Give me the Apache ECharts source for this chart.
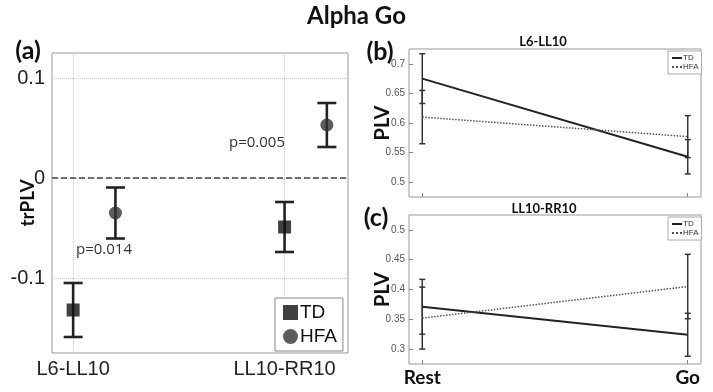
<!DOCTYPE html>
<html>
<head>
<meta charset="utf-8">
<script src="https://cdn.jsdelivr.net/npm/echarts@6/dist/echarts.min.js"></script>
<style>
  html, body { margin: 0; padding: 0; background: #fff; }
  #chart { width: 713px; height: 392px; }
</style>
</head>
<body>
<div id="chart"></div>
<script>
// panel (a): trPLV per connection
const pairs = ['L6-LL10', 'LL10-RR10'];
const tdMeanA = [-0.132, -0.049];
const tdErrA = [0.027, 0.025];
const hfaMeanA = [-0.035, 0.053];
const hfaErrA = [0.0255, 0.022];
const pValues = ['p=0.014', 'p=0.005'];

// panels (b) and (c): PLV Rest vs Go
const conditions = ['Rest', 'Go'];
const tdMeanB = [0.675, 0.543];
const tdErrB = [0.042, 0.029];
const hfaMeanB = [0.610, 0.577];
const hfaErrB = [0.045, 0.0355];
const tdMeanC = [0.371, 0.324];
const tdErrC = [0.046, 0.036];
const hfaMeanC = [0.352, 0.405];
const hfaErrC = [0.052, 0.054];

const HFA_SHIFT = 0.2; // HFA points drawn to the right of TD in (a)

const boldFont = 'Lato';
const tickFont = 'Liberation Sans';

function points(means, shift) {
  return means.map((m, i) => [i + 1 + shift, m]);
}
function bars(means, errs, shift) {
  return means.map((m, i) => [i + 1 + shift, m - errs[i], m + errs[i]]);
}

// error bar drawn with caps
function errorBar(cap, width, color) {
  return function (params, api) {
    const top = api.coord([api.value(0), api.value(2)]);
    const bot = api.coord([api.value(0), api.value(1)]);
    const st = { stroke: color, lineWidth: width };
    return {
      type: 'group',
      children: [
        { type: 'line', shape: { x1: top[0], y1: top[1], x2: bot[0], y2: bot[1] }, style: st },
        { type: 'line', shape: { x1: top[0] - cap, y1: top[1], x2: top[0] + cap, y2: top[1] }, style: st },
        { type: 'line', shape: { x1: bot[0] - cap, y1: bot[1], x2: bot[0] + cap, y2: bot[1] }, style: st }
      ]
    };
  };
}

const chart = echarts.init(document.getElementById('chart'));

const gridBox = { show: true, borderColor: '#999', borderWidth: 1, backgroundColor: '#fff', outerBoundsMode: 'none', containLabel: false };

const rightX = (idx, showLabels) => ({
  type: 'value', gridIndex: idx, min: 0.95, max: 2.05,
  axisLine: { show: false },
  axisTick: { show: true, inside: true, length: 4, lineStyle: { color: '#888' }, customValues: [1, 2] },
  axisLabel: {
    show: showLabels, customValues: [1, 2], margin: 4,
    formatter: v => conditions[Math.round(v) - 1],
    fontFamily: boldFont, fontWeight: 'bold', fontSize: 19, color: '#111'
  },
  splitLine: { show: false }
});

const rightY = (idx, min, max, ticks) => ({
  type: 'value', gridIndex: idx, min: min, max: max,
  name: 'PLV', nameLocation: 'middle', nameGap: 16, nameRotate: 90, nameMoveOverlap: false,
  nameTextStyle: { fontFamily: boldFont, fontWeight: 'bold', fontSize: 20, color: '#111' },
  axisLine: { show: false },
  axisTick: { show: true, inside: true, length: 4, lineStyle: { color: '#888' }, customValues: ticks },
  axisLabel: { customValues: ticks, margin: 4, fontFamily: tickFont, fontSize: 10, color: '#555' },
  splitLine: { show: false }
});

const smallLegend = (top, suffix) => ({
  left: 668, top: top, orient: 'vertical',
  data: ['TD' + suffix, 'HFA' + suffix],
  formatter: n => n.split('|')[0],
  padding: [3, 3, 3, 3], itemGap: 1, itemWidth: 10, itemHeight: 8,
  itemStyle: { opacity: 0 },
  borderColor: '#aaa', borderWidth: 1, backgroundColor: '#fff',
  textStyle: { fontFamily: tickFont, fontSize: 8, color: '#333', padding: [0, 0, 0, -4] }
});

const option = {
  animation: false,
  grid: [
    Object.assign({ left: 52, top: 53, width: 296, height: 300 }, gridBox),
    Object.assign({ left: 409, top: 49, width: 292, height: 148 }, gridBox),
    Object.assign({ left: 409, top: 215, width: 292, height: 149 }, gridBox)
  ],
  xAxis: [
    {
      type: 'value', gridIndex: 0, min: 0.9, max: 2.3,
      axisLine: { show: false },
      axisTick: { show: false, customValues: [1, 2] },
      axisLabel: {
        customValues: [1, 2], margin: 6,
        formatter: v => pairs[Math.round(v) - 1],
        fontFamily: tickFont, fontSize: 20, color: '#222'
      },
      splitLine: { show: true, lineStyle: { color: '#ccc', type: 'dotted' } }
    },
    rightX(1, false),
    rightX(2, true)
  ],
  yAxis: [
    {
      type: 'value', gridIndex: 0, min: -0.175, max: 0.125,
      name: 'trPLV', nameLocation: 'middle', nameGap: 15, nameRotate: 90, nameMoveOverlap: false,
      nameTextStyle: { fontFamily: boldFont, fontWeight: 'bold', fontSize: 19, color: '#111' },
      axisLine: { show: false },
      axisTick: { show: false, customValues: [-0.1, 0, 0.1] },
      axisLabel: { customValues: [-0.1, 0, 0.1], margin: 7, fontFamily: tickFont, fontSize: 20, color: '#222' },
      splitLine: { show: true, lineStyle: { color: '#ccc', type: 'dotted' } }
    },
    rightY(1, 0.475, 0.725, [0.5, 0.55, 0.6, 0.65, 0.7]),
    rightY(2, 0.275, 0.525, [0.3, 0.35, 0.4, 0.45, 0.5])
  ],
  legend: [
    {
      left: 275, top: 298, orient: 'vertical',
      data: ['TD', 'HFA'],
      padding: [5, 6, 5, 8], itemGap: 5, itemWidth: 15, itemHeight: 15,
      borderColor: '#888', borderWidth: 1, backgroundColor: '#fff',
      textStyle: { fontFamily: tickFont, fontSize: 19, color: '#111', padding: [0, 0, 0, -3] }
    },
    smallLegend(51, '|b'),
    smallLegend(217, '|c')
  ],
  graphic: [
    { type: 'text', left: 'center', top: 4, style: { text: 'Alpha Go', font: 'bold 24px Lato', fill: '#111' } },
    { type: 'text', x: 28, y: 51, style: { text: '(a)', font: 'bold 25px Lato', fill: '#111', align: 'center', verticalAlign: 'middle' } },
    { type: 'text', x: 380, y: 52, style: { text: '(b)', font: 'bold 25px Lato', fill: '#111', align: 'center', verticalAlign: 'middle' } },
    { type: 'text', x: 376, y: 218, style: { text: '(c)', font: 'bold 25px Lato', fill: '#111', align: 'center', verticalAlign: 'middle' } },
    { type: 'text', x: 543, y: 42, style: { text: 'L6-LL10', font: 'bold 13px Lato', fill: '#111', align: 'center', verticalAlign: 'middle' } },
    { type: 'text', x: 544, y: 209, style: { text: 'LL10-RR10', font: 'bold 13px Lato', fill: '#111', align: 'center', verticalAlign: 'middle' } },
    { type: 'text', x: 104, y: 250, style: { text: pValues[0], font: '15px "Open Sans"', fill: '#333', align: 'center', verticalAlign: 'middle' } },
    { type: 'text', x: 257, y: 143, style: { text: pValues[1], font: '15px "Open Sans"', fill: '#333', align: 'center', verticalAlign: 'middle' } }
  ],
  series: [
    // (a)
    {
      type: 'custom', xAxisIndex: 0, yAxisIndex: 0, z: 3,
      renderItem: errorBar(9.5, 2.6, '#222'),
      data: bars(tdMeanA, tdErrA, 0).concat(bars(hfaMeanA, hfaErrA, HFA_SHIFT))
    },
    {
      name: 'TD', type: 'scatter', xAxisIndex: 0, yAxisIndex: 0, z: 4,
      symbol: 'rect', symbolSize: 13, itemStyle: { color: '#111' },
      data: points(tdMeanA, 0),
      markLine: {
        silent: true, symbol: ['none', 'none'], label: { show: false },
        lineStyle: { type: 'dashed', color: '#444', width: 1.5 },
        data: [{ yAxis: 0 }]
      }
    },
    {
      name: 'HFA', type: 'scatter', xAxisIndex: 0, yAxisIndex: 0, z: 4,
      symbol: 'circle', symbolSize: 13, itemStyle: { color: '#333' },
      data: points(hfaMeanA, HFA_SHIFT)
    },
    // (b)
    {
      name: 'TD|b', type: 'line', xAxisIndex: 1, yAxisIndex: 1, showSymbol: false, symbol: 'none',
      lineStyle: { color: '#222', width: 2 }, itemStyle: { color: '#222' },
      data: points(tdMeanB, 0)
    },
    {
      name: 'HFA|b', type: 'line', xAxisIndex: 1, yAxisIndex: 1, showSymbol: false, symbol: 'none',
      lineStyle: { color: '#555', width: 1.5, type: 'dotted' }, itemStyle: { color: '#555' },
      data: points(hfaMeanB, 0)
    },
    {
      type: 'custom', xAxisIndex: 1, yAxisIndex: 1, z: 3,
      renderItem: errorBar(3, 1.5, '#333'),
      data: bars(tdMeanB, tdErrB, 0).concat(bars(hfaMeanB, hfaErrB, 0))
    },
    // (c)
    {
      name: 'TD|c', type: 'line', xAxisIndex: 2, yAxisIndex: 2, showSymbol: false, symbol: 'none',
      lineStyle: { color: '#222', width: 2 }, itemStyle: { color: '#222' },
      data: points(tdMeanC, 0)
    },
    {
      name: 'HFA|c', type: 'line', xAxisIndex: 2, yAxisIndex: 2, showSymbol: false, symbol: 'none',
      lineStyle: { color: '#555', width: 1.5, type: 'dotted' }, itemStyle: { color: '#555' },
      data: points(hfaMeanC, 0)
    },
    {
      type: 'custom', xAxisIndex: 2, yAxisIndex: 2, z: 3,
      renderItem: errorBar(3, 1.5, '#333'),
      data: bars(tdMeanC, tdErrC, 0).concat(bars(hfaMeanC, hfaErrC, 0))
    }
  ]
};

chart.setOption(option);

window.addEventListener('resize', function () {
  chart.resize();
});
</script>
</body>
</html>
